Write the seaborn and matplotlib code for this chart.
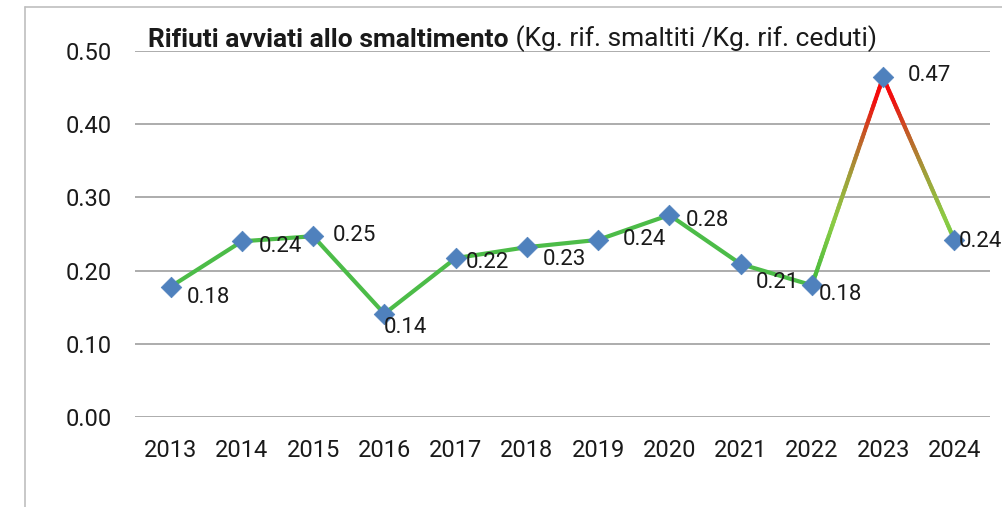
import numpy as np
import pandas as pd
import matplotlib.pyplot as plt
import seaborn as sns
from matplotlib.collections import LineCollection
from matplotlib.colors import LinearSegmentedColormap
from matplotlib.lines import Line2D

sns.set_theme(style='white')
plt.rcParams['font.family'] = ['Roboto', 'DejaVu Sans']

# dati
anni = ['2013', '2014', '2015', '2016', '2017', '2018', '2019', '2020', '2021', '2022', '2023', '2024']
valori = [0.178, 0.240, 0.247, 0.141, 0.217, 0.232, 0.242, 0.276, 0.209, 0.180, 0.464, 0.242]
etichette = ['0.18', '0.24', '0.25', '0.14', '0.22', '0.23', '0.24', '0.28', '0.21', '0.18', '0.47', '0.24']
yticks = [0.0, 0.1, 0.2, 0.3, 0.4, 0.5]

# spostamento delle etichette (pixel)
offs = [(38, -11), (39, -5), (41, 1), (21, -14), (32, -4), (38, -12),
        (46, 0), (38, -6), (37, -18), (29, -9), (46, 2), (26, -2)]

df = pd.DataFrame({'anno': anni, 'valore': valori})
df['pos'] = np.arange(len(df))

verde = '#4cbc48'
blu = '#4f81bd'

fig = plt.figure(figsize=(10.02, 5.07), dpi=100)
ax = fig.add_axes([135 / 1002, 1 - 417 / 507, (990 - 135) / 1002, (417 - 51) / 507])

# tratto verde fino al 2022
sns.lineplot(data=df.iloc[:10], x='pos', y='valore', color=verde, lw=3, ax=ax, zorder=3)

# tratto 2022-2024 con sfumatura verde -> rosso
cmap = LinearSegmentedColormap.from_list('vr', [(0, '#3cb83c'), (0.3, '#8ccc44'), (0.52, '#a0a03a'),
                                                 (0.7, '#c06028'), (0.87, '#f01010'), (1, '#ff0000')])
seg = []
col = []
sub = df.iloc[9:]
for i in range(len(sub) - 1):
    x0, y0 = sub['pos'].iloc[i], sub['valore'].iloc[i]
    x1, y1 = sub['pos'].iloc[i + 1], sub['valore'].iloc[i + 1]
    t = np.linspace(0, 1, 60)
    xs = x0 + (x1 - x0) * t
    ys = y0 + (y1 - y0) * t
    for k in range(len(t) - 1):
        seg.append([(xs[k], ys[k]), (xs[k + 1], ys[k + 1])])
        ym = (ys[k] + ys[k + 1]) / 2
        col.append(cmap(np.clip((ym - 0.18) / (0.47 - 0.18), 0, 1)))
lc = LineCollection(seg, colors=col, linewidths=3, capstyle='round', zorder=3)
ax.add_collection(lc)

sns.scatterplot(data=df, x='pos', y='valore', marker='D', s=110, color=blu,
                edgecolor=blu, linewidth=0.5, ax=ax, zorder=5)

for i, r in df.iterrows():
    ax.annotate(etichette[i], (r['pos'], r['valore']), xytext=offs[i],
                textcoords='offset pixels', ha='center', va='center',
                fontsize=16, color='#1a1a1a', zorder=6)

ax.set_xlim(-0.5, len(anni) - 0.5)
ax.set_ylim(0, 0.5)
ax.set_yticks(yticks)
ax.set_yticklabels([f'{v:.2f}' for v in yticks])
ax.set_xticks(df['pos'])
ax.set_xticklabels(anni)
ax.tick_params(axis='y', labelsize=17, pad=17, length=0, colors='#1a1a1a')
ax.tick_params(axis='x', labelsize=17, pad=16, length=0, colors='#1a1a1a')
ax.set_xlabel('')
ax.set_ylabel('')
for s in ax.spines.values():
    s.set_visible(False)
ax.yaxis.grid(True, color='#a6a6a6', lw=1.3)
ax.set_axisbelow(True)
ax.set_facecolor('none')

# titolo: parte in grassetto + parte normale
t1 = fig.text(148 / 1002, 1 - 47 / 507, 'Rifiuti avviati allo smaltimento',
              fontsize=19, fontweight='bold', color='#1a1a1a', va='baseline')
fig.canvas.draw()
ax.annotate(' (Kg. rif. smaltiti /Kg. rif. ceduti)', xy=(1, 0), xycoords=t1,
            va='bottom', ha='left', fontsize=19, color='#1a1a1a', annotation_clip=False)

# cornice del grafico (solo sinistra e alto visibili)
fig.add_artist(Line2D([25 / 1002, 25 / 1002], [0, 1 - 7 / 507], color='#bfbfbf', lw=1.2))
fig.add_artist(Line2D([25 / 1002, 1], [1 - 7 / 507, 1 - 7 / 507], color='#bfbfbf', lw=1.2))

fig.savefig('out.png', dpi=100)
